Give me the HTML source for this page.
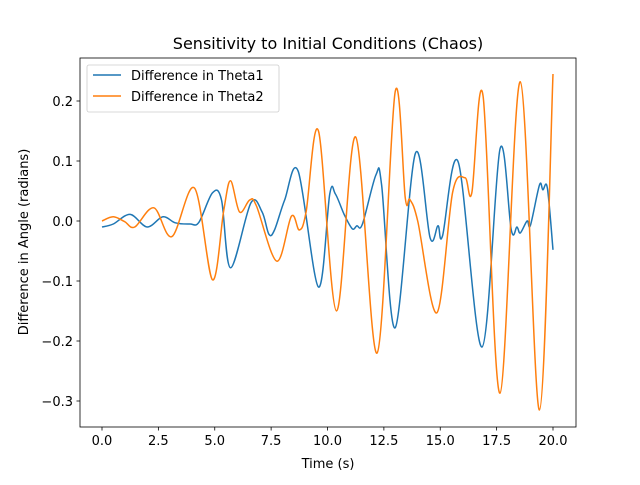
<!DOCTYPE html>
<html><head><meta charset="utf-8"><style>
body{margin:0;background:#fff;font-family:"Liberation Sans","DejaVu Sans",sans-serif}
svg text{font-family:"DejaVu Sans","Liberation Sans",sans-serif;font-size:13px;fill:#000}
</style></head><body>
<svg id="chart" width="640" height="480"></svg>
<script>
const t1=[0,0.5,1.25,2,2.7,3.25,3.9,4.3,4.9,5.3,5.7,6.6,7.1,7.4,7.65,8.1,8.7,9.6,10.1,10.35,10.75,11.1,11.3,11.55,12.15,12.4,13.0,13.9,14.55,14.9,15.1,15.8,16.85,17.65,18.15,18.4,18.55,18.85,19.0,19.4,19.55,19.75,20];
const v1=[-0.01,-0.005,0.011,-0.01,0.007,-0.003,-0.005,-0.002,0.047,0.035,-0.078,0.03,0.015,-0.022,-0.015,0.035,0.083,-0.11,0.045,0.045,0.01,-0.013,-0.008,-0.005,0.077,0.06,-0.178,0.113,-0.028,-0.008,-0.025,0.098,-0.21,0.12,-0.015,-0.01,-0.02,0,-0.007,0.06,0.052,0.055,-0.048];
const t2=[0,0.5,1.0,1.45,2.3,3.1,4.1,4.9,5.4,5.7,6.1,6.55,6.85,7.75,8.4,8.75,9.05,9.6,10.4,11.25,12.2,13.0,13.45,13.65,14.0,14.85,15.55,16.1,16.4,16.9,17.65,18.55,19.4,20];
const v2=[0,0.007,-0.001,-0.01,0.022,-0.026,0.055,-0.098,0.018,0.067,0.015,0.035,0.025,-0.067,0.008,-0.015,0.015,0.15,-0.15,0.14,-0.22,0.215,0.038,0.036,0,-0.153,0.048,0.072,0.047,0.208,-0.287,0.232,-0.315,0.245];
const xTicks=[0,2.5,5,7.5,10,12.5,15,17.5,20];
const xTickLabels=["0.0","2.5","5.0","7.5","10.0","12.5","15.0","17.5","20.0"];
const yTicks=[-0.3,-0.2,-0.1,0,0.1,0.2];
const yTickLabels=["\u22120.3","\u22120.2","\u22120.1","0.0","0.1","0.2"];
const NS="http://www.w3.org/2000/svg",svg=document.getElementById('chart');
const L=80,R=576,T=58,B=427;
const X=t=>102+t*22.55, Y=v=>221-v*600;
function el(tag,a,txt){const e=document.createElementNS(NS,tag);for(const k in a)e.setAttribute(k,a[k]);if(txt!==undefined)e.textContent=txt;svg.appendChild(e);return e;}
function path(ts,vs){const p=ts.map((t,i)=>[X(t),Y(vs[i])]);let d=`M${p[0][0]},${p[0][1]}`;
for(let i=0;i<p.length-1;i++){const p0=p[i-1]||p[i],p1=p[i],p2=p[i+1],p3=p[i+2]||p2;
const c1=[p1[0]+(p2[0]-p0[0])/6,p1[1]+(p2[1]-p0[1])/6],c2=[p2[0]-(p3[0]-p1[0])/6,p2[1]-(p3[1]-p1[1])/6];
d+=`C${c1[0]},${c1[1]} ${c2[0]},${c2[1]} ${p2[0]},${p2[1]}`;}return d;}
let s=el('path',{d:path(t1,v1),fill:'none',stroke:'#1f77b4','stroke-width':1.5});


s=el('path',{d:path(t2,v2),fill:'none',stroke:'#ff7f0e','stroke-width':1.5});


let f=el('rect',{x:L,y:T,width:R-L,height:B-T,fill:'none',stroke:'#000','stroke-width':0.8});


xTicks.forEach((t,i)=>{el('line',{x1:X(t),x2:X(t),y1:B,y2:B+3.5,stroke:'#000','stroke-width':0.8});
const tx=el('text',{x:X(t),y:B+18,'text-anchor':'middle'},xTickLabels[i]);

});
yTicks.forEach((v,i)=>{el('line',{x1:L-3.5,x2:L,y1:Y(v),y2:Y(v),stroke:'#000','stroke-width':0.8});
const tx=el('text',{x:L-7,y:Y(v)+5,'text-anchor':'end'},yTickLabels[i]);

});
let a=el('text',{x:328,y:468,'text-anchor':'middle'},'Time (s)');


a=el('text',{x:28,y:242,'text-anchor':'middle',transform:'rotate(-90 28 242)'},'Difference in Angle (radians)');


a=el('text',{x:328,y:49,'text-anchor':'middle',style:'font-size:16px'},'Sensitivity to Initial Conditions (Chaos)');


let lg=el('rect',{x:87,y:65,width:192,height:47,rx:2,fill:'#fff',stroke:'#ccc','stroke-width':0.8});


[['#1f77b4','Difference in Theta1',80],['#ff7f0e','Difference in Theta2',101]].forEach(([c,l,y])=>{
el('line',{x1:93,x2:121,y1:y-5,y2:y-5,stroke:c,'stroke-width':1.5});
const tx=el('text',{x:131,y:y},l);

});
</script></body></html>
